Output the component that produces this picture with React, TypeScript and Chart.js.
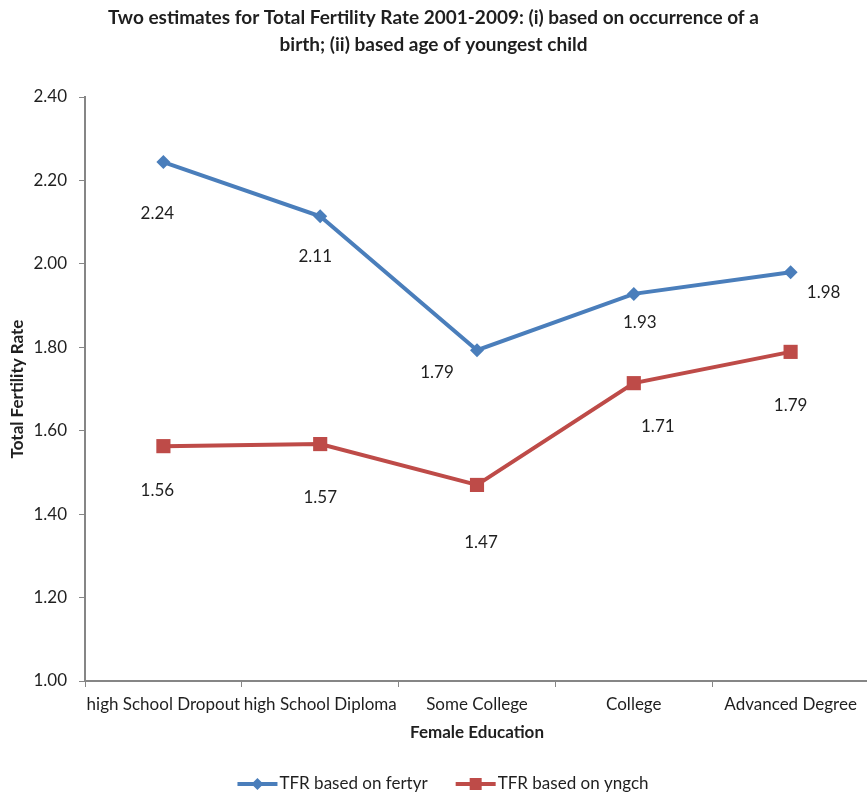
import React, { useEffect, useRef } from "react";
import { Chart, registerables } from "chart.js";

Chart.register(...registerables);

const categories = [
  "high School Dropout",
  "high School Diploma",
  "Some College",
  "College",
  "Advanced Degree",
];
const fertyrValues = [2.244, 2.114, 1.793, 1.928, 1.98];
const yngchValues = [1.563, 1.568, 1.47, 1.714, 1.789];
const seriesNames = ["TFR based on fertyr", "TFR based on yngch"];
const titleLines = [
  "Two estimates for Total Fertility Rate 2001-2009: (i) based on occurrence of a",
  "birth; (ii) based age of youngest child",
];
const xTitle = "Female Education";
const yTitle = "Total Fertility Rate";

// label offsets relative to each point (styling)
const fertyrLabelOffsets = [
  [-6, 51],
  [-5, 40],
  [-40, 22],
  [6, 29],
  [33, 20],
];
const yngchLabelOffsets = [
  [-6, 44],
  [0, 53],
  [4, 58],
  [24, 43],
  [0, 54],
];

const BLUE = "#4A7EBB";
const RED = "#BE4B48";
const FONT = "Lato, 'Open Sans', sans-serif";
const TEXT = "#1f1f1f";
const AXIS = "#868686";
const CANVAS_W = 879;

const decorPlugin = {
  id: "decor",
  afterDraw(chart: any) {
    const ctx = chart.ctx as CanvasRenderingContext2D;
    const area = chart.chartArea;
    ctx.save();
    // title
    ctx.fillStyle = TEXT;
    ctx.textAlign = "center";
    ctx.textBaseline = "middle";
    ctx.font = `bold 19px ${FONT}`;
    titleLines.forEach((l, i) => ctx.fillText(l, 433.5, 18 + i * 27));
    // axis titles
    ctx.font = `bold 17px ${FONT}`;
    ctx.fillText(xTitle, (area.left + area.right) / 2, 733);
    ctx.save();
    ctx.translate(18, (area.top + area.bottom) / 2);
    ctx.rotate(-Math.PI / 2);
    ctx.fillText(yTitle, 0, 0);
    ctx.restore();
    // data labels
    ctx.font = `17px ${FONT}`;
    const offs = [fertyrLabelOffsets, yngchLabelOffsets];
    chart.data.datasets.forEach((ds: any, di: number) => {
      const meta = chart.getDatasetMeta(di);
      meta.data.forEach((pt: any, i: number) => {
        const v = ds.data[i] as number;
        ctx.fillText(v.toFixed(2), pt.x + offs[di][i][0], pt.y + offs[di][i][1]);
      });
    });
    // legend
    ctx.font = `17px ${FONT}`;
    ctx.textAlign = "left";
    const lineW = 40;
    const gap = 28;
    const widths = seriesNames.map((n) => lineW + 2 + ctx.measureText(n).width);
    const total = widths[0] + gap + widths[1];
    let x = 443 - total / 2;
    const y = 784;
    const colors = [BLUE, RED];
    seriesNames.forEach((n, i) => {
      ctx.strokeStyle = colors[i];
      ctx.lineWidth = 4;
      ctx.beginPath();
      ctx.moveTo(x, y);
      ctx.lineTo(x + lineW, y);
      ctx.stroke();
      ctx.fillStyle = colors[i];
      const cx = x + lineW / 2;
      ctx.beginPath();
      if (i === 0) {
        ctx.moveTo(cx, y - 6);
        ctx.lineTo(cx + 6, y);
        ctx.lineTo(cx, y + 6);
        ctx.lineTo(cx - 6, y);
        ctx.closePath();
      } else {
        ctx.rect(cx - 6, y - 6, 12, 12);
      }
      ctx.fill();
      ctx.fillStyle = TEXT;
      ctx.fillText(n, x + lineW + 2, y);
      x += widths[i] + gap;
    });
    ctx.restore();
  },
};

function LineChart() {
  const ref = useRef<HTMLCanvasElement>(null);
  useEffect(() => {
    if (!ref.current) return;
    const chart = new Chart(ref.current, {
      type: "line",
      data: {
        labels: categories,
        datasets: [
          {
            label: seriesNames[0],
            data: fertyrValues,
            borderColor: BLUE,
            backgroundColor: BLUE,
            borderWidth: 4,
            pointStyle: "rectRot",
            pointRadius: 7,
            pointBorderWidth: 0,
            tension: 0,
          },
          {
            label: seriesNames[1],
            data: yngchValues,
            borderColor: RED,
            backgroundColor: RED,
            borderWidth: 4,
            pointStyle: "rect",
            pointRadius: 10,
            pointBorderWidth: 0,
            tension: 0,
          },
        ],
      },
      options: {
        animation: false,
        responsive: false,
        maintainAspectRatio: false,
        layout: { padding: { top: 97, right: 0, left: 0, bottom: 0 } },
        plugins: {
          legend: { display: false },
          title: { display: false },
          tooltip: { enabled: false },
        },
        scales: {
          x: {
            offset: true,
            grid: {
              offset: true,
              drawOnChartArea: false,
              drawTicks: true,
              tickLength: 6,
              color: AXIS,
            },
            border: { display: true, color: AXIS, width: 2 },
            ticks: {
              color: TEXT,
              font: { family: FONT, size: 17 },
              padding: 7,
              maxRotation: 0,
              autoSkip: false,
            },
            afterFit(scale: any) {
              scale.height = 793 - 681;
            },
          },
          y: {
            min: 1,
            max: 2.4,
            ticks: {
              stepSize: 0.2,
              color: TEXT,
              font: { family: FONT, size: 17 },
              padding: 12,
              callback: (v: any) => Number(v).toFixed(2),
            },
            grid: {
              drawOnChartArea: false,
              drawTicks: true,
              tickLength: 6,
              color: AXIS,
            },
            border: { display: true, color: AXIS, width: 2 },
            afterFit(scale: any) {
              scale.width = 85;
            },
          },
        },
      },
      plugins: [decorPlugin],
    });
    return () => chart.destroy();
  }, []);
  return <canvas ref={ref} width={CANVAS_W} height={793} style={{ display: "block" }} />;
}

export default function App() {
  return (
    <div
      style={{
        position: "fixed",
        left: 0,
        top: 0,
        width: 867,
        height: 793,
        overflow: "hidden",
        background: "#fff",
      }}
    >
      <LineChart />
    </div>
  );
}
